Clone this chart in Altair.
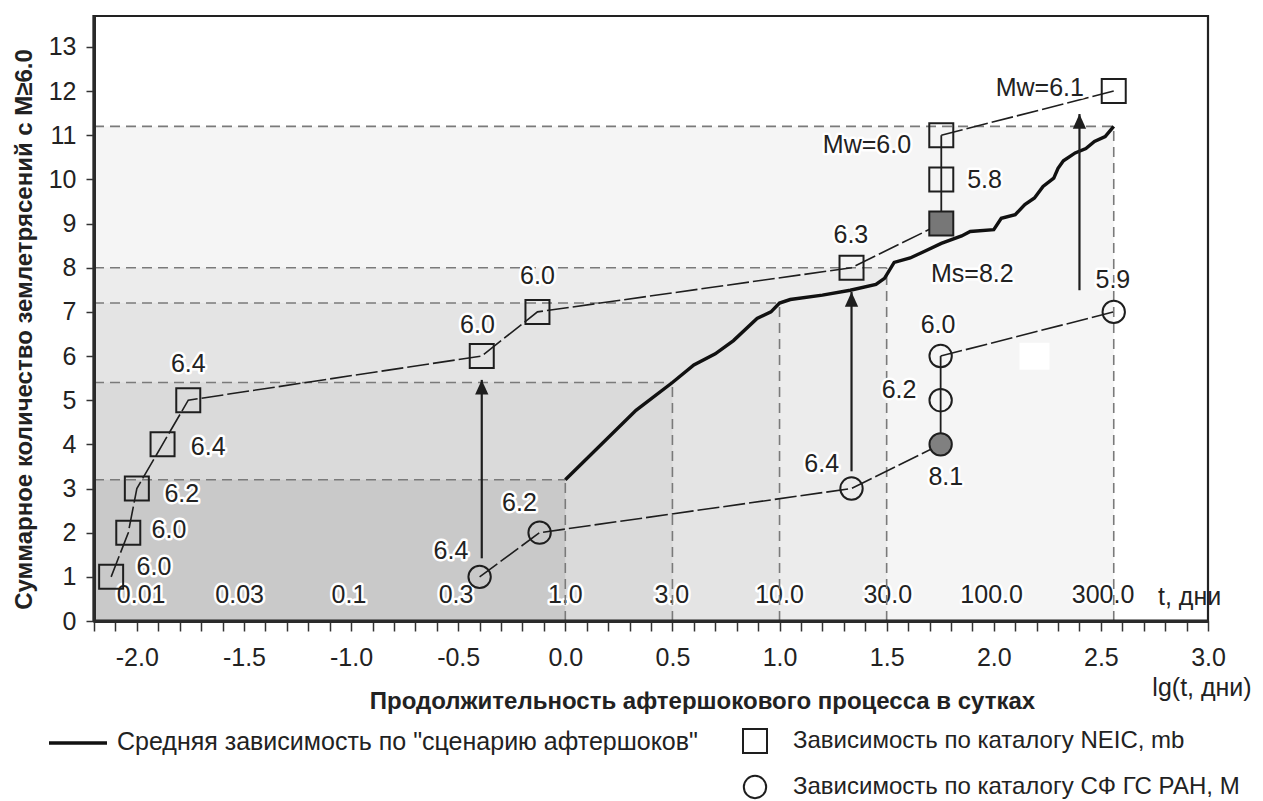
import altair as alt
import pandas as pd

# ---------------- data ----------------
# NEIC catalogue (squares): x = lg(t, days), y = cumulative count
neic_x = [-2.12, -2.04, -2.00, -1.88, -1.76, -0.39, -0.13, 1.336, 1.755, 1.755, 1.755, 2.56]
neic_y = [1, 2, 3, 4, 5, 6, 7, 8, 9, 10, 11, 12]
neic_filled = [0, 0, 0, 0, 0, 0, 0, 0, 1, 0, 0, 0]
neic_label = ["6.0", "6.0", "6.2", "6.4", "6.4", "6.0", "6.0", "6.3", "Ms=8.2", "5.8", "Mw=6.0", "Mw=6.1"]
neic_label_x = [-1.92, -1.85, -1.79, -1.667, -1.76, -0.41, -0.13, 1.333, 1.90, 1.957, 1.408, 2.215]
neic_label_y = [1.22, 2.05, 2.87, 3.94, 5.82, 6.71, 7.82, 8.74, 7.86, 9.99, 10.78, 12.08]
neic_segments = [(0, 8, "dash"), (8, 10, "solid"), (10, 11, "dash")]

# СФ ГС РАН catalogue (circles)
sf_x = [-0.40, -0.12, 1.336, 1.752, 1.752, 1.752, 2.56]
sf_y = [1, 2, 3, 4, 5, 6, 7]
sf_filled = [0, 0, 0, 1, 0, 0, 0]
sf_label = ["6.4", "6.2", "6.4", "8.1", "6.2", "6.0", "5.9"]
sf_label_x = [-0.534, -0.214, 1.197, 1.776, 1.558, 1.74, 2.556]
sf_label_y = [1.59, 2.67, 3.55, 3.26, 5.23, 6.71, 7.72]
sf_segments = [(0, 3, "dash"), (3, 5, "solid"), (5, 6, "dash")]

# average dependence ("aftershock scenario")
curve_x = [0.0, 0.33, 0.50, 0.60, 0.70, 0.785, 0.895, 0.96, 1.0, 1.05, 1.20, 1.33, 1.45,
           1.49, 1.535, 1.61, 1.68, 1.755, 1.85, 1.89, 2.0, 2.035, 2.1, 2.145, 2.19, 2.23,
           2.28, 2.30, 2.325, 2.38, 2.43, 2.47, 2.52, 2.56]
curve_y = [3.2, 4.77, 5.4, 5.8, 6.05, 6.35, 6.85, 7.0, 7.2, 7.28, 7.38, 7.49, 7.62,
           7.76, 8.12, 8.22, 8.38, 8.55, 8.72, 8.82, 8.86, 9.12, 9.2, 9.43, 9.58, 9.84,
           10.03, 10.25, 10.42, 10.6, 10.7, 10.86, 10.97, 11.2]

# threshold levels reached by the average curve
level_x = [2.56, 1.5, 1.0, 0.5, 0.0]
level_y = [11.2, 8.0, 7.2, 5.4, 3.2]
level_shade = ["#f5f5f5", "#ececec", "#e4e4e4", "#dadada", "#c9c9c9"]

# time labels (days) inside the plot
t_labels = ["0.01", "0.03", "0.1", "0.3", "1.0", "3.0", "10.0", "30.0", "100.0", "300.0"]
t_label_x = [-1.98, -1.52, -1.01, -0.51, 0.0, 0.497, 1.0, 1.505, 1.99, 2.51]
t_label_y = 0.58

# arrows
arrow_x = [-0.39, 1.336, 2.40]
arrow_from = [1.42, 3.39, 7.49]
arrow_to = [5.46, 7.45, 11.48]

# white patch (artifact in the original)
patch = dict(x=2.12, x2=2.26, y=5.69, y2=6.30)

X_MIN, X_MAX = -2.2, 3.0
Y_MIN, Y_MAX = 0.0, 13.7
W, H = 1114, 605

FONT = "Liberation Sans"
DARK = "#1e1e1e"

xs = alt.Scale(domain=[X_MIN, X_MAX], nice=False, zero=False)
ys = alt.Scale(domain=[Y_MIN, Y_MAX], nice=False, zero=False)

x_ticks = [round(X_MIN + 0.1 * i, 1) for i in range(53)]

x_axis = alt.Axis(
    values=x_ticks,
    labelExpr="abs(datum.value*2 - round(datum.value*2)) < 0.01 ? replace(format(datum.value, '.1f'), '\u2212', '-') : ''",
    tickSize=10, tickColor="#333", tickWidth=1.5,
    domainColor="#2a2a2a", domainWidth=3,
    labelFont=FONT, labelFontSize=25, labelColor="#222", labelPadding=14,
    labelFlush=False, labelOverlap=False,
    grid=False, zindex=1,
    title="Продолжительность афтершокового процесса в сутках",
    titleFont=FONT, titleFontSize=24, titleFontWeight="bold", titleColor="#222",
    titleX=608, titleY=80, titleAlign="center", titleBaseline="middle",
)
y_axis = alt.Axis(
    values=list(range(0, 14)),
    tickSize=8, tickColor="#333", tickWidth=1.5,
    domainColor="#2a2a2a", domainWidth=3,
    labelFont=FONT, labelFontSize=25, labelColor="#222", labelPadding=10,
    grid=False, zindex=1,
    title="Суммарное количество землетрясений с M≥6.0",
    titleFont=FONT, titleFontSize=24, titleFontWeight="bold", titleColor="#222",
    titleX=-70, titleY=313, titleAngle=-90, titleAlign="center", titleBaseline="middle",
)

# ---------------- frames ----------------
shade_df = pd.DataFrame({"x": [X_MIN] * len(level_x), "x2": level_x,
                         "y": [Y_MIN] * len(level_y), "y2": level_y, "c": level_shade})
hline_df = pd.DataFrame({"x": [X_MIN] * len(level_x), "x2": level_x, "y": level_y})
vline_df = pd.DataFrame({"x": level_x, "y": [Y_MIN] * len(level_y), "y2": level_y})
curve_df = pd.DataFrame({"x": curve_x, "y": curve_y, "o": range(len(curve_x))})


def seg_frame(xv, yv, segs, prefix):
    rows = []
    for k, (a, b, style) in enumerate(segs):
        for i in range(a, b + 1):
            rows.append({"x": xv[i], "y": yv[i], "g": f"{prefix}{k}", "s": style, "o": i})
    return pd.DataFrame(rows)


neic_lines = seg_frame(neic_x, neic_y, neic_segments, "n")
sf_lines = seg_frame(sf_x, sf_y, sf_segments, "c")

neic_df = pd.DataFrame({"x": neic_x, "y": neic_y,
                        "f": ["#777777" if v else "transparent" for v in neic_filled]})
sf_df = pd.DataFrame({"x": sf_x, "y": sf_y,
                      "f": ["#808080" if v else "transparent" for v in sf_filled]})
labels_df = pd.DataFrame({"x": neic_label_x + sf_label_x,
                          "y": neic_label_y + sf_label_y,
                          "t": neic_label + sf_label})
tlab_df = pd.DataFrame({"x": t_label_x, "y": [t_label_y] * len(t_label_x), "t": t_labels})
arrow_df = pd.DataFrame({"x": arrow_x, "y": arrow_from, "y2": arrow_to})
patch_df = pd.DataFrame([patch])
one = pd.DataFrame({"a": [0]})

X = lambda f="x": alt.X(f"{f}:Q", scale=xs, axis=x_axis)
Y = lambda f="y": alt.Y(f"{f}:Q", scale=ys, axis=y_axis)

layers = []

# shading
layers.append(alt.Chart(shade_df).mark_rect(strokeWidth=0).encode(
    x=X(), x2="x2:Q", y=Y(), y2="y2:Q", fill=alt.Fill("c:N", scale=None)))
layers.append(alt.Chart(patch_df).mark_rect(fill="white").encode(
    x=X(), x2="x2:Q", y=Y(), y2="y2:Q"))

# time labels inside the plot
text_kw = dict(font=FONT, fontSize=25, align="center", baseline="middle")
layers.append(alt.Chart(tlab_df).mark_text(stroke="white", strokeWidth=5, strokeJoin="round",
                                           fill="white", **text_kw).encode(x=X(), y=Y(), text="t:N"))
layers.append(alt.Chart(tlab_df).mark_text(fill="#222", **text_kw).encode(x=X(), y=Y(), text="t:N"))

# dashed reference lines
dash_kw = dict(color="#7a7a7a", strokeWidth=1.6, strokeDash=[10, 6])
layers.append(alt.Chart(hline_df).mark_rule(**dash_kw).encode(x=X(), x2="x2:Q", y=Y()))
layers.append(alt.Chart(vline_df).mark_rule(**dash_kw).encode(x=X(), y=Y(), y2="y2:Q"))

# average curve
layers.append(alt.Chart(curve_df).mark_line(color="#111", strokeWidth=3.4, strokeJoin="miter").encode(
    x=X(), y=Y(), order="o:Q"))

# catalogue lines
for df in (neic_lines, sf_lines):
    layers.append(alt.Chart(df).transform_filter(alt.datum.s == "dash").mark_line(
        color=DARK, strokeWidth=1.6, strokeDash=[22, 4]).encode(
        x=X(), y=Y(), detail="g:N", order="o:Q"))
    layers.append(alt.Chart(df).transform_filter(alt.datum.s == "solid").mark_line(
        color=DARK, strokeWidth=1.8).encode(x=X(), y=Y(), detail="g:N", order="o:Q"))

# arrows
layers.append(alt.Chart(arrow_df).mark_rule(color=DARK, strokeWidth=2.2).encode(
    x=X(), y=Y(), y2="y2:Q"))
layers.append(alt.Chart(arrow_df).mark_point(
    shape="M0,0L0.95,2.1L-0.95,2.1Z", size=196, filled=True, fill=DARK, stroke=None, opacity=1).encode(
    x=X(), y=Y("y2")))

# markers
layers.append(alt.Chart(neic_df).mark_point(shape="square", size=576, filled=True, stroke=DARK,
                                            strokeWidth=2, opacity=1).encode(
    x=X(), y=Y(), fill=alt.Fill("f:N", scale=None)))
layers.append(alt.Chart(sf_df).mark_point(shape="circle", size=500, filled=True, stroke=DARK,
                                          strokeWidth=2, opacity=1).encode(
    x=X(), y=Y(), fill=alt.Fill("f:N", scale=None)))

# data labels with white halo
layers.append(alt.Chart(labels_df).mark_text(stroke="white", strokeWidth=5, strokeJoin="round",
                                             fill="white", **text_kw).encode(x=X(), y=Y(), text="t:N"))
layers.append(alt.Chart(labels_df).mark_text(fill="#222", **text_kw).encode(x=X(), y=Y(), text="t:N"))

# plot frame (thin top/right, heavy left/bottom axis lines)
layers.append(alt.Chart(one).mark_rect(fillOpacity=0, stroke="#222", strokeWidth=2.2).encode(
    x=alt.value(0), x2=alt.value(W), y=alt.value(0), y2=alt.value(H)))
layers.append(alt.Chart(one).mark_rule(color="#222", strokeWidth=3.2).encode(
    x=alt.value(0), y=alt.value(-1), y2=alt.value(H + 1)))
layers.append(alt.Chart(one).mark_rule(color="#222", strokeWidth=3.2).encode(
    x=alt.value(-1), x2=alt.value(W + 1), y=alt.value(H)))

# unit captions
layers.append(alt.Chart(one).mark_text(font=FONT, fontSize=25, align="left", baseline="middle",
                                       fill="#222").encode(
    x=alt.value(1064), y=alt.value(581), text=alt.value("t, дни")))
layers.append(alt.Chart(one).mark_text(font=FONT, fontSize=25, align="center", baseline="middle",
                                       fill="#222").encode(
    x=alt.value(1108), y=alt.value(672), text=alt.value("lg(t, дни)")))

# legend (drawn under the plot)
leg_font = dict(font=FONT, fontSize=25, align="left", baseline="middle", fill="#222")
leg_font_r = dict(leg_font, fontSize=24)
layers.append(alt.Chart(one).mark_rule(color="#111", strokeWidth=3.4).encode(
    x=alt.value(-45), x2=alt.value(13), y=alt.value(727)))
layers.append(alt.Chart(one).mark_text(**leg_font).encode(
    x=alt.value(23), y=alt.value(726), text=alt.value('Средняя зависимость по "сценарию афтершоков"')))
layers.append(alt.Chart(one).mark_point(shape="square", size=576, filled=False, stroke=DARK,
                                        strokeWidth=2, opacity=1).encode(
    x=alt.value(661), y=alt.value(725)))
layers.append(alt.Chart(one).mark_text(**leg_font_r).encode(
    x=alt.value(699), y=alt.value(725), text=alt.value("Зависимость по каталогу NEIC, mb")))
layers.append(alt.Chart(one).mark_point(shape="circle", size=500, filled=False, stroke=DARK,
                                        strokeWidth=2, opacity=1).encode(
    x=alt.value(661), y=alt.value(771)))
layers.append(alt.Chart(one).mark_text(**leg_font_r).encode(
    x=alt.value(699), y=alt.value(771), text=alt.value("Зависимость по каталогу СФ ГС РАН, М")))

chart = alt.layer(*layers).properties(
    width=W, height=H,
    autosize=alt.AutoSizeParams(type="none"),
    padding={"left": 86, "top": 8, "right": 46, "bottom": 184},
).configure_view(stroke=None).configure(background="white")

chart.save("out.html", embed_options={"renderer": "svg", "actions": False})
